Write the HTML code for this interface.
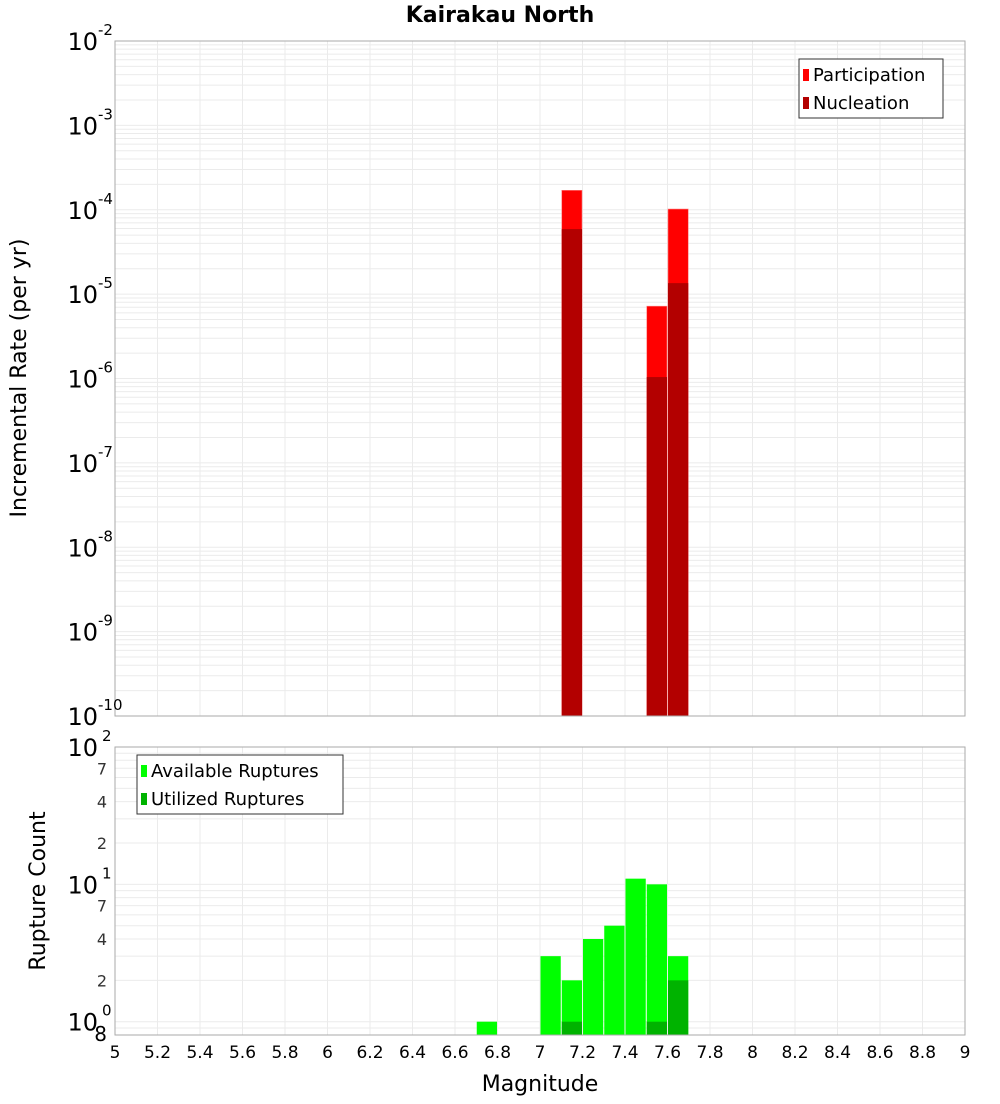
<!DOCTYPE html>
<html><head><meta charset="utf-8"><style>
body{margin:0;background:#fff;font-family:"DejaVu Sans","Liberation Sans",sans-serif}
svg text{font-family:"DejaVu Sans","Liberation Sans",sans-serif}
</style></head><body>
<svg id="c" width="1000" height="1100" xmlns="http://www.w3.org/2000/svg"></svg>
<script>
const topCats=[7.15,7.55,7.65];
const participation=[1.7e-4,7.2e-6,1.02e-4];
const nucleation=[5.9e-5,1.04e-6,1.35e-5];
const botCats=[6.75,7.05,7.15,7.25,7.35,7.45,7.55,7.65];
const available=[1,3,2,4,5,11,10,3];
const utilCats=[7.15,7.55,7.65];
const utilized=[1,1,2];
const xTicks=[5,5.2,5.4,5.6,5.8,6,6.2,6.4,6.6,6.8,7,7.2,7.4,7.6,7.8,8,8.2,8.4,8.6,8.8,9];
const topExps=[-10,-9,-8,-7,-6,-5,-4,-3,-2];
const botMinorLabels=[2,4,7];

const svg=document.getElementById('c');
const NS='http://www.w3.org/2000/svg';
function mk(tag,attrs,parent){const e=document.createElementNS(NS,tag);for(const k in attrs)e.setAttribute(k,attrs[k]);(parent||svg).appendChild(e);return e;}
const X0=115,X1=965;
const x=v=>X0+(v-5)/4*(X1-X0);
const T0=41,T1=716;
const yT=v=>T0+(-2-Math.log10(v))/8*(T1-T0);
const B0=747,B1=1035;
const lmin=Math.log10(0.8),lmax=2;
const yB=v=>B0+(lmax-Math.log10(v))/(lmax-lmin)*(B1-B0);

// title
let t=mk('text',{x:500,y:22,'text-anchor':'middle','font-size':22,'font-weight':'bold'});t.textContent='Kairakau North';


// top grid
let g=mk('g',{});
for(let e=-10;e<-2;e++)for(let m=1;m<10;m++){const yy=yT(m*Math.pow(10,e));mk('line',{x1:X0,x2:X1,y1:yy,y2:yy,stroke:'#ebebeb','stroke-width':1},g);}
xTicks.forEach(v=>mk('line',{x1:x(v),x2:x(v),y1:T0,y2:T1,stroke:'#ebebeb'},g));
// bottom grid
let g2=mk('g',{});
[0.8,0.9].concat([1,2,3,4,5,6,7,8,9,10,20,30,40,50,60,70,80,90,100]).forEach(v=>{const yy=yB(v);mk('line',{x1:X0,x2:X1,y1:yy,y2:yy,stroke:'#ebebeb'},g2);});
xTicks.forEach(v=>mk('line',{x1:x(v),x2:x(v),y1:B0,y2:B1,stroke:'#ebebeb'},g2));

// top bars
const bw=x(5.1)-x(5)-1;
topCats.forEach((c,i)=>{
 let r=mk('rect',{x:x(c-0.05)+0.5,y:yT(participation[i]),width:bw,height:T1-yT(participation[i]),fill:'#ff0000',stroke:'#ff8080','stroke-width':0.6});
 
 let n=mk('rect',{x:x(c-0.05)+0.5,y:yT(nucleation[i]),width:bw,height:T1-yT(nucleation[i]),fill:'#b30000'});
 
});
// bottom bars
botCats.forEach((c,i)=>{
 let r=mk('rect',{x:x(c-0.05)+0.5,y:yB(available[i]),width:bw,height:B1-yB(available[i]),fill:'#00ff00'});
 
});
utilCats.forEach((c,i)=>{
 let r=mk('rect',{x:x(c-0.05)+0.5,y:yB(utilized[i]),width:bw,height:B1-yB(utilized[i]),fill:'#00b300'});
 
});

// frames
let f1=mk('rect',{x:X0,y:T0,width:X1-X0,height:T1-T0,fill:'none',stroke:'#aaa'});
let f2=mk('rect',{x:X0,y:B0,width:X1-X0,height:B1-B0,fill:'none',stroke:'#aaa'});

// top y labels
topExps.forEach(e=>{const yy=yT(Math.pow(10,e));
 let tx=mk('text',{x:98,y:yy+9,'text-anchor':'end','font-size':24});tx.textContent='10';
 
 let s=mk('text',{x:98,y:yy-6,'font-size':15});s.textContent=String(e);
 
});
// bottom y labels
[0,1,2].forEach(e=>{const yy=yB(Math.pow(10,e));
 let tx=mk('text',{x:98,y:yy+9,'text-anchor':'end','font-size':24});tx.textContent='10';
 
 let s=mk('text',{x:102,y:yy-6,'font-size':15});s.textContent=String(e);
 
});
[1,10].forEach(d=>botMinorLabels.forEach(m=>{const yy=yB(m*d);
 let tx=mk('text',{x:107,y:yy+6,'text-anchor':'end','font-size':16,fill:'#333'});tx.textContent=String(m);
 
}));
let e8=mk('text',{x:107,y:yB(0.8)+6,'text-anchor':'end','font-size':20});e8.textContent='8';


// x ticks
xTicks.forEach(v=>{let tx=mk('text',{x:x(v),y:1058,'text-anchor':'middle','font-size':17});tx.textContent=String(v);
 });
let xl=mk('text',{x:540,y:1091,'text-anchor':'middle','font-size':22});xl.textContent='Magnitude';

let yl=mk('text',{x:0,y:0,'text-anchor':'middle','font-size':22,transform:'translate(26,378) rotate(-90)'});yl.textContent='Incremental Rate (per yr)';

let yl2=mk('text',{x:0,y:0,'text-anchor':'middle','font-size':22,transform:'translate(45,891) rotate(-90)'});yl2.textContent='Rupture Count';


// legends
function legend(x0,y0,w,h,items,name){
 let lg=mk('g',{});
 mk('rect',{x:x0,y:y0,width:w,height:h,fill:'#fff',stroke:'#333'},lg);
 items.forEach((it,i)=>{mk('rect',{x:x0+4,y:y0+10+i*28,width:6,height:12,fill:it[1]},lg);
  let tx=mk('text',{x:x0+14,y:y0+22+i*28,'font-size':18},lg);tx.textContent=it[0];
  });
}
legend(799,59,144,59,[['Participation','#ff0000'],['Nucleation','#b30000']],'top-legend');
legend(137,755,206,59,[['Available Ruptures','#00ff00'],['Utilized Ruptures','#00b300']],'bottom-legend');
</script>
</body></html>
